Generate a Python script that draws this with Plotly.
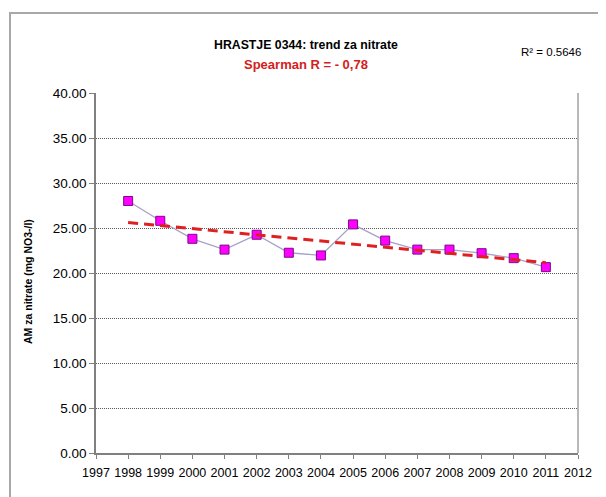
import numpy as np
import plotly.graph_objects as go

years = [1998, 1999, 2000, 2001, 2002, 2003, 2004, 2005, 2006, 2007, 2008, 2009, 2010, 2011]
nitrate = [28.0, 25.8, 23.8, 22.6, 24.25, 22.25, 21.95, 25.4, 23.6, 22.6, 22.6, 22.2, 21.65, 20.65]
x_ticks = list(range(1997, 2013))
y_ticks = [0, 5, 10, 15, 20, 25, 30, 35, 40]
y_tick_labels = [f"{v:.2f}" for v in y_ticks]

slope, intercept = np.polyfit(years, nitrate, 1)
trend_x = [years[0], years[-1]]
trend_y = [slope * x + intercept for x in trend_x]

# page body has an 8px margin; work in screen coordinates and offset
OFF = 8
W, H = 606 - OFF, 497 - OFF
PL, PR, PT, PB = 96, 578, 93, 453  # plot area in screen px
L, R, T, B = PL - OFF, W - (PR - OFF), PT - OFF, H - (PB - OFF)
pw, ph = W - L - R, H - T - B

def px(x):
    return (x - OFF - L) / pw

def py(y):
    return (H - B - (y - OFF)) / ph

FONT = "Liberation Sans, Arial, sans-serif"

fig = go.Figure()
fig.add_trace(go.Scatter(
    x=years, y=nitrate, mode="lines+markers",
    line=dict(color="#a8a0c8", width=1.3),
    marker=dict(symbol="square", size=9, color="#ff00ff",
                line=dict(color="#7a0a8a", width=1)),
    showlegend=False,
))
fig.add_trace(go.Scatter(
    x=trend_x, y=trend_y, mode="lines",
    line=dict(color="#e02020", width=3, dash="10px,6px"),
    showlegend=False,
))

fig.update_layout(
    width=W, height=H,
    margin=dict(l=L, r=R, t=T, b=B),
    paper_bgcolor="white", plot_bgcolor="white",
    font=dict(family=FONT, color="#000000"),
    xaxis=dict(
        range=[1997, 2012], tickmode="array", tickvals=x_ticks,
        ticktext=[str(v) for v in x_ticks], tickangle=0, automargin=False,
        ticks="outside", ticklen=4, tickcolor="#808080", ticklabelstandoff=3,
        showline=True, linecolor="#808080", linewidth=1.5,
        mirror=False, showgrid=False, zeroline=False,
        tickfont=dict(size=12.5),
    ),
    yaxis=dict(
        range=[0, 40], tickmode="array", tickvals=y_ticks, ticktext=y_tick_labels,
        automargin=False,
        ticks="outside", ticklen=5, tickcolor="#808080",
        showline=True, linecolor="#808080", linewidth=1.5,
        showgrid=True, gridcolor="#585858", griddash="1px,1px", gridwidth=1,
        zeroline=False, tickfont=dict(size=13.5),
    ),
    shapes=[
        dict(type="line", xref="paper", yref="paper", x0=1, x1=1, y0=0, y1=1,
             line=dict(color="#a0a0a0", width=1.5)),
        dict(type="rect", xref="paper", yref="paper",
             x0=px(10), x1=px(604), y0=py(13), y1=py(510),
             line=dict(color="#a8a8a8", width=2), fillcolor="rgba(0,0,0,0)", layer="below"),
    ],
    annotations=[
        dict(text="<b>HRASTJE 0344: trend za nitrate</b>", xref="paper", yref="paper",
             x=px(306), y=py(45), showarrow=False,
             font=dict(size=12.3, color="#000000"),
             xanchor="center", yanchor="middle"),
        dict(text="<b>Spearman R = - 0,78</b>", xref="paper", yref="paper",
             x=px(306), y=py(64), showarrow=False,
             font=dict(size=13, color="#d42020"),
             xanchor="center", yanchor="middle"),
        dict(text="R² = 0.5646", xref="paper", yref="paper",
             x=px(551), y=py(52), showarrow=False,
             font=dict(size=11.5, color="#000000"),
             xanchor="center", yanchor="middle"),
        dict(text="<b>AM za nitrate (mg NO3-/l)</b>", xref="paper", yref="paper",
             x=px(28), y=py(282), showarrow=False, textangle=-90,
             font=dict(size=10.5, color="#000000"),
             xanchor="center", yanchor="middle"),
    ],
)

fig.write_html("out.html")
